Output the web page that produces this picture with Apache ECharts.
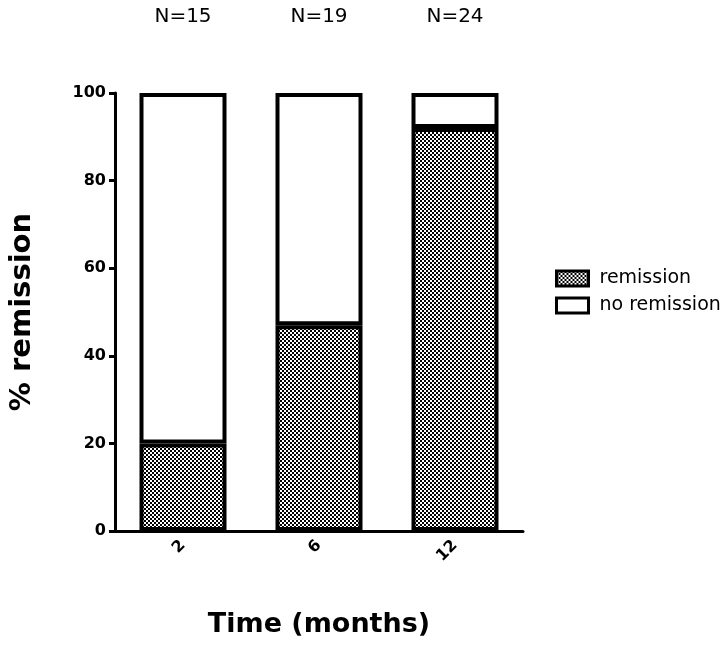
<!DOCTYPE html>
<html>
<head>
<meta charset="utf-8">
<script src="https://cdn.jsdelivr.net/npm/echarts@6/dist/echarts.min.js"></script>
<style>
  html, body { margin: 0; padding: 0; background: #fff; }
  #chart { width: 724px; height: 648px; }
</style>
</head>
<body>
<div id="chart"></div>
<script>
  // data
  var months = ['2', '6', '12'];
  var nLabels = ['N=15', 'N=19', 'N=24'];
  var remission = [20, 47, 92];
  var noRemission = [80, 53, 8];
  var yTicks = [0, 20, 40, 60, 80, 100];

  // checkered fill like the original
  var cv = document.createElement('canvas');
  cv.width = 4; cv.height = 4;
  var ctx = cv.getContext('2d');
  ctx.fillStyle = '#fff';
  ctx.fillRect(0, 0, 4, 4);
  ctx.fillStyle = '#000';
  ctx.fillRect(0, 0, 2, 2);
  ctx.fillRect(2, 2, 2, 2);
  var checker = { image: cv, repeat: 'repeat' };

  var font = 'DejaVu Sans, sans-serif';
  var myChart = echarts.init(document.getElementById('chart'));

  var chartOption = {
    animation: false,
    textStyle: { fontFamily: font, color: '#000' },
    grid: { left: 113, top: 93, right: 201, bottom: 117, containLabel: false },
    legend: {
      orient: 'vertical',
      left: 550,
      top: 264,
      icon: 'rect',
      itemWidth: 32,
      itemHeight: 15,
      itemGap: 8,
      textStyle: { fontSize: 19, color: '#000', fontFamily: font, padding: [0, 0, 0, 6] },
      data: [
        { name: 'remission', itemStyle: { color: checker, borderColor: '#000', borderWidth: 3 } },
        { name: 'no remission', itemStyle: { color: '#fff', borderColor: '#000', borderWidth: 3 } }
      ]
    },
    xAxis: [
      {
        type: 'category',
        data: months,
        name: 'Time (months)',
        nameLocation: 'middle',
        nameGap: 80,
        nameTextStyle: { fontSize: 27, fontWeight: 'bold', color: '#000', fontFamily: font },
        axisLine: { lineStyle: { color: '#000', width: 3 } },
        axisTick: { alignWithLabel: true, length: 6, lineStyle: { width: 3, color: '#000' } },
        axisLabel: { rotate: 45, fontSize: 16, fontWeight: 'bold', color: '#000', margin: 12 }
      },
      {
        type: 'category',
        data: nLabels,
        position: 'top',
        offset: 58,
        axisLine: { show: false },
        axisTick: { show: false },
        axisLabel: { fontSize: 20, color: '#000', margin: 8 }
      }
    ],
    yAxis: {
      type: 'value',
      min: yTicks[0],
      max: yTicks[yTicks.length - 1],
      interval: 20,
      name: '% remission',
      nameLocation: 'middle',
      nameGap: 78,
      nameTextStyle: { fontSize: 29, fontWeight: 'bold', color: '#000', fontFamily: font },
      splitLine: { show: false },
      axisLine: { show: true, lineStyle: { color: '#000', width: 3 } },
      axisTick: { show: true, length: 6, lineStyle: { width: 3, color: '#000' } },
      axisLabel: { fontSize: 16, fontWeight: 'bold', color: '#000', margin: 9 }
    },
    series: [
      {
        name: 'remission',
        type: 'bar',
        stack: 'total',
        barWidth: 87,
        data: remission,
        itemStyle: { color: checker, borderColor: '#000', borderWidth: 4 }
      },
      {
        name: 'no remission',
        type: 'bar',
        stack: 'total',
        barWidth: 87,
        data: noRemission,
        itemStyle: { color: '#fff', borderColor: '#000', borderWidth: 4 }
      }
    ]
  };
  myChart.setOption(chartOption);
</script>
</body>
</html>
